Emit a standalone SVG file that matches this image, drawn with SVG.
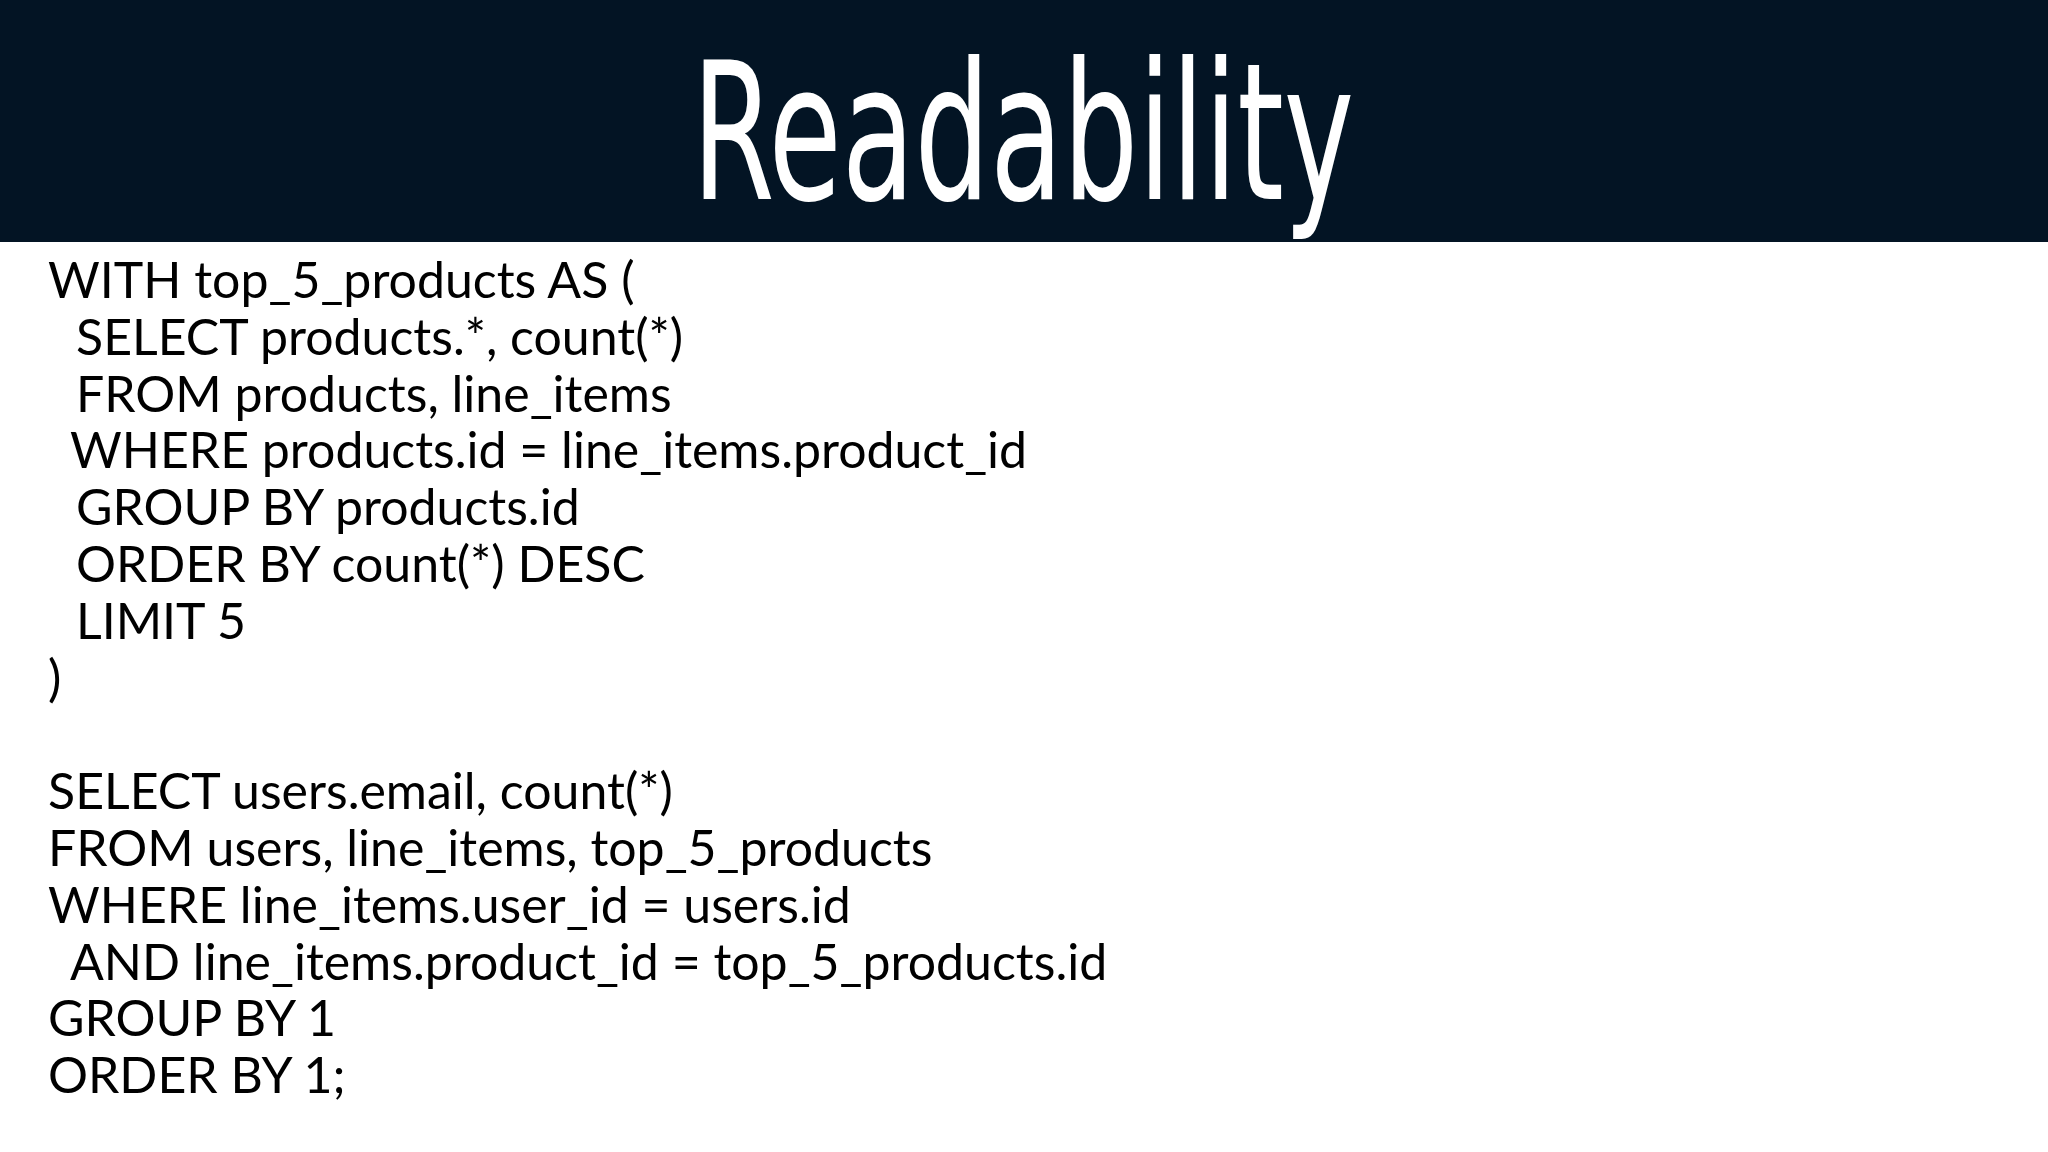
<svg xmlns="http://www.w3.org/2000/svg" width="2048" height="1152" viewBox="0 0 2048 1152">
<style>
.c{font-family:Lato,"Open Sans",sans-serif;font-size:50px;fill:#000;white-space:pre}
</style>
<rect width="2048" height="1152" fill="#fff"/>
<g id="header">
<rect width="2048" height="242" fill="#031424"/>
<text x="1023" y="199" text-anchor="middle" font-family="'DejaVu Sans Condensed','Liberation Sans Narrow',sans-serif" font-stretch="condensed" font-size="190" fill="#fff" textLength="662" lengthAdjust="spacingAndGlyphs">Readability</text>
</g>
<g id="code">
<text class="c" x="48" y="298">WITH top_5_products AS (</text>
<text class="c" x="76" y="355">SELECT products.*, count(*)</text>
<text class="c" x="76" y="412">FROM products, line_items</text>
<text class="c" x="70" y="468">WHERE products.id = line_items.product_id</text>
<text class="c" x="76" y="525">GROUP BY products.id</text>
<text class="c" x="76" y="582">ORDER BY count(*) DESC</text>
<text class="c" x="76" y="639">LIMIT 5</text>
<text class="c" x="48" y="696">)</text>
<text class="c" x="48" y="809">SELECT users.email, count(*)</text>
<text class="c" x="48" y="866">FROM users, line_items, top_5_products</text>
<text class="c" x="48" y="923">WHERE line_items.user_id = users.id</text>
<text class="c" x="70" y="980">AND line_items.product_id = top_5_products.id</text>
<text class="c" x="48" y="1036">GROUP BY 1</text>
<text class="c" x="48" y="1093">ORDER BY 1;</text>
</g>
</svg>
